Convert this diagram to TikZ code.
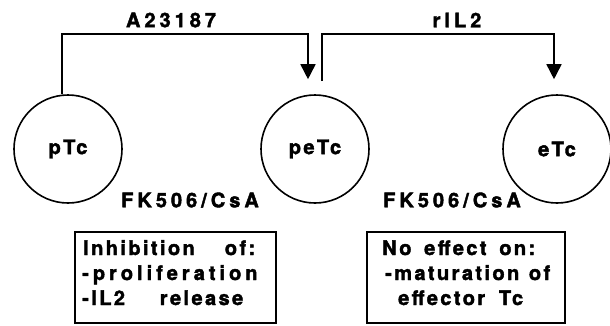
\documentclass[tikz,border=0pt]{standalone}
\usepackage{fontspec}
\setmainfont[BoldFeatures={FakeBold=2}]{TeX Gyre Heros}
\newfontfamily\widefont[LetterSpace=20,BoldFeatures={FakeBold=2}]{TeX Gyre Heros}
\newfontfamily\tightfont[LetterSpace=12,BoldFeatures={FakeBold=2}]{TeX Gyre Heros}
\usepackage{tikz}
\usetikzlibrary{arrows.meta}

\tikzset{
  cell/.style={circle,draw,line width=1.6pt,minimum size=108pt,inner sep=0pt,font=\fontsize{20}{24}\tightfont\bfseries},
  wire/.style={line width=1.6pt},
  lbl/.style={inner sep=0pt,font=\fontsize{20}{24}\widefont\bfseries},
  boxtxt/.style={inner sep=0pt,anchor=base west,font=\fontsize{20}{24}\tightfont\bfseries},
  effbox/.style={draw,line width=1.6pt},
}

\begin{document}
\begin{tikzpicture}[x=1pt,y=-1pt]
\useasboundingbox (0,0) rectangle (610,325);
% cellen
\node[cell] (pTc) at (68,149) {pTc};
\node[cell] (peTc) at (315,149) {peTc};
\node[cell] (eTc) at (557,149) {eTc};
% stimuli
\draw[wire,-{Triangle[length=15pt,width=15pt]}] ([xshift=-6]pTc.north) -- ++(0,-60) -| ([xshift=-7,yshift=15]peTc.north);
\draw[wire,-{Triangle[length=15pt,width=15pt]}] ([xshift=7,yshift=13]peTc.north) -- ++(0,-47) -| ([xshift=-3,yshift=15]eTc.north);
\node[lbl] (a23) at (171,20) {A23187};
\node[lbl] (ril2) at (457,20) {rIL2};
% remmers
\node[lbl] (fkA) at (190,200) {FK506/CsA};
\node[lbl] (fkB) at (452,200) {FK506/CsA};
% effecten
\draw[effbox] (75,232) rectangle (276,323);
\draw[effbox] (367,232) rectangle (565,323);
\node[boxtxt] (inhA) at (83,255) {\makebox[172pt][s]{Inhibition\hfill of:}};
\node[boxtxt,font=\fontsize{20}{24}\widefont\bfseries] (inhB) at (82,280) {-proliferation};
\node[boxtxt] (inhC) at (82,305) {\makebox[161pt][s]{-IL2\hfill release}};
\node[boxtxt] (noA) at (382,255) {\makebox[153pt][s]{No\hfill effect\hfill on:}};
\node[boxtxt] (noB) at (385,280) {\makebox[165pt][s]{-maturation\hfill of}};
\node[boxtxt] (noC) at (398,305) {\makebox[125pt][s]{effector\hfill Tc}};
\end{tikzpicture}
\end{document}
